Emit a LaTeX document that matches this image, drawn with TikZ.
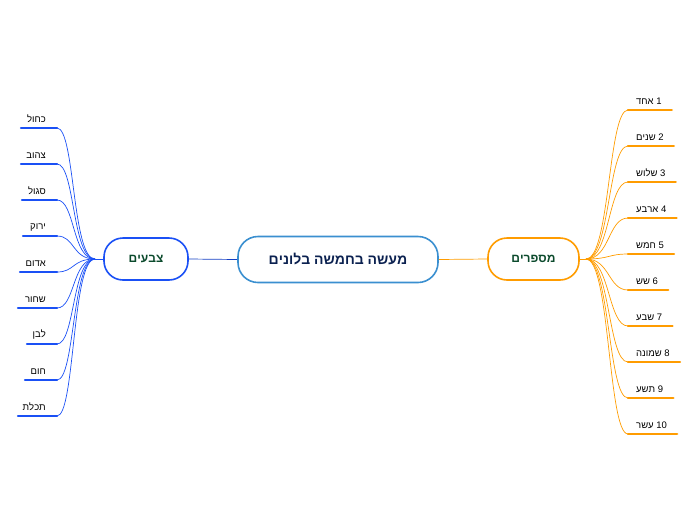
\documentclass[tikz,border=0pt]{standalone}
\usepackage{fontspec}
\setmainfont{Liberation Sans}
\TeXXeTstate=1
\definecolor{lblue}{HTML}{1A50F5}
\definecolor{cblue}{HTML}{3A8FD0}
\definecolor{orng}{HTML}{FF9C00}
\definecolor{navy}{HTML}{0B2150}
\definecolor{dgreen}{HTML}{0B4A2C}
\tikzset{
  main/.style={draw=cblue,line width=1.6pt,rounded corners=20pt,minimum width=200pt,minimum height=46pt,font=\fontsize{14}{16}\selectfont\bfseries,text=navy},
  side/.style={rounded corners=19pt,line width=1.6pt,minimum height=42pt,font=\fontsize{12}{14}\selectfont\bfseries,text=dgreen},
  leaf/.style={inner sep=1pt,font=\fontsize{9.5}{11}\selectfont},
  uline/.style={line width=2.4pt},
  conn/.style={line width=0.7pt}
}
\begin{document}
\begin{tikzpicture}[x=1pt,y=-1pt]
\useasboundingbox (0,0) rectangle (696,520);
\node[main] (c) at (338,259.5) {\beginR מעשה בחמשה בלונים\endR};
\node[side,draw=lblue,minimum width=84pt] (l) at (146,259) {\beginR צבעים\endR};
\node[side,draw=orng,minimum width=91pt] (r) at (533.5,259) {\beginR מספרים\endR};
\draw[conn,lblue!80!black] (c.west) -- (l.east);
\draw[conn,orng] (c.east) -- (r.west);
\coordinate (lh) at (95,259);
\coordinate (rh) at (586,259);
\draw[conn,lblue] (l.west) -- (lh);
\draw[conn,orng] (r.east) -- (rh);
\foreach \t/\y/\s [count=\i] in {כחול/128/21,צהוב/164/21,סגול/200/22,ירוק/236/23,אדום/272/20,שחור/308/18,לבן/344/27,חום/380/25,תכלת/416/18}{
  \node[leaf,anchor=south east] (ll\i) at (47,\y-4) {\beginR\t\endR};
  \coordinate (le\i) at (57,\y);
  \draw[uline,lblue,line cap=round] (\s,\y) -- (le\i);
  \draw[conn,lblue] (le\i) .. controls (75,\y) and (72,259) .. (lh);
}
\foreach \t/\n/\y [count=\i] in {אחד/1/110,שנים/2/146,שלוש/3/182,ארבע/4/218,חמש/5/254,שש/6/290,שבע/7/326,שמונה/8/362,תשע/9/398,עשר/10/434}{
  \node[leaf,anchor=south west] (rl\i) at (635,\y-4) {\beginR\t\endR\ \n};
  \coordinate (rs\i) at (628,\y);
  \draw[uline,orng,line cap=round] (rs\i) -- ([xshift=9pt]rl\i.south east |- rs\i);
  \draw[conn,orng] (rs\i) .. controls (608,\y) and (610,259) .. (rh);
}
\end{tikzpicture}
\end{document}
